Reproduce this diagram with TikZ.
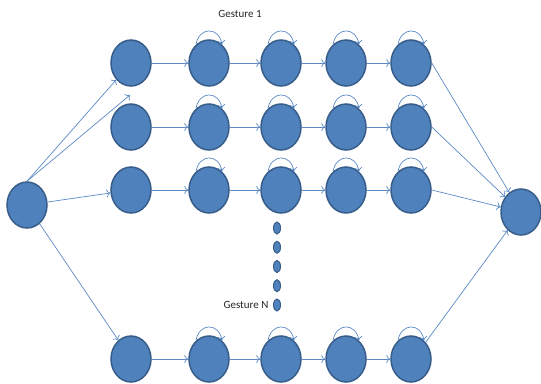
\documentclass[tikz,border=0pt]{standalone}
\usepackage{fontspec}
\setmainfont{Carlito}
\usepackage{tikz}
\usetikzlibrary{shapes,arrows,arrows.meta}
\usepackage{xcolor}
\definecolor{statefill}{HTML}{4F81BD}
\definecolor{stateline}{HTML}{385D8A}
\definecolor{edgeblue}{HTML}{5B8AC6}
\tikzstyle{state} = [ellipse, draw=stateline, fill=statefill, line width=1.5pt,
    minimum width=40pt, minimum height=46pt, inner sep=0pt]
\tikzstyle{dot} = [ellipse, draw=stateline, fill=statefill, line width=1pt,
    minimum width=7pt, minimum height=12pt, inner sep=0pt]
\tikzstyle{label} = [font=\fontsize{11}{13}\selectfont, text=black!85]
\tikzstyle{arrow} = [draw=edgeblue, line width=0.7pt, ->,
    >={To[length=4pt,width=8pt]}]
\tikzstyle{selfloop} = [arrow, out=80, in=100, looseness=1.8]

\begin{document}
\begin{tikzpicture}[x=1pt, y=1pt, node distance=65pt]
    \useasboundingbox (0,0) rectangle (541,-383);
    % Place nodes
    \node [state] (start) at (27,-205) {};
    \node [state] (end) at (521,-212) {};
    \node [state] (r1c1) at (131,-63) {};
    \node [state, right of=r1c1, node distance=78pt] (r1c2) {};
    \node [state, right of=r1c2, node distance=72pt] (r1c3) {};
    \node [state, right of=r1c3] (r1c4) {};
    \node [state, right of=r1c4] (r1c5) {};
    \node [state] (r2c1) at (131,-127) {};
    \node [state, right of=r2c1, node distance=78pt] (r2c2) {};
    \node [state, right of=r2c2, node distance=72pt] (r2c3) {};
    \node [state, right of=r2c3] (r2c4) {};
    \node [state, right of=r2c4] (r2c5) {};
    \node [state] (r3c1) at (131,-190) {};
    \node [state, right of=r3c1, node distance=78pt] (r3c2) {};
    \node [state, right of=r3c2, node distance=72pt] (r3c3) {};
    \node [state, right of=r3c3] (r3c4) {};
    \node [state, right of=r3c4] (r3c5) {};
    \node [state] (rNc1) at (131,-359) {};
    \node [state, right of=rNc1, node distance=78pt] (rNc2) {};
    \node [state, right of=rNc2, node distance=72pt] (rNc3) {};
    \node [state, right of=rNc3] (rNc4) {};
    \node [state, right of=rNc4] (rNc5) {};
    \node [dot] (dot1) at (277,-228) {};
    \node [dot, below of=dot1, node distance=19.25pt] (dot2) {};
    \node [dot, below of=dot2, node distance=19.25pt] (dot3) {};
    \node [dot, below of=dot3, node distance=19.25pt] (dot4) {};
    \node [dot, below of=dot4, node distance=19.25pt] (dot5) {};
    \node [label] (gest1) at (240,-14) {Gesture 1};
    \node [label, left of=dot5, node distance=31pt] (gestN) {Gesture N};
    \coordinate (gap) at (130,-95);
    % Draw edges
    \draw [arrow] (start.north) -- (r1c1);
    \draw [arrow] (start.north) -- (gap);
    \draw [arrow] (start) -- (r3c1);
    \draw [arrow] (start) -- (rNc1);
    \path (r1c1) edge [arrow] (r1c2) (r1c2) edge [arrow] (r1c3)
          (r1c3) edge [arrow] (r1c4) (r1c4) edge [arrow] (r1c5);
    \path (r2c1) edge [arrow] (r2c2) (r2c2) edge [arrow] (r2c3)
          (r2c3) edge [arrow] (r2c4) (r2c4) edge [arrow] (r2c5);
    \path (r3c1) edge [arrow] (r3c2) (r3c2) edge [arrow] (r3c3)
          (r3c3) edge [arrow] (r3c4) (r3c4) edge [arrow] (r3c5);
    \path (rNc1) edge [arrow] (rNc2) (rNc2) edge [arrow] (rNc3)
          (rNc3) edge [arrow] (rNc4) (rNc4) edge [arrow] (rNc5);
    % Self loops
    \path (r1c2.125) edge [selfloop] (r1c2.55) (r1c3.125) edge [selfloop] (r1c3.55)
          (r1c4.125) edge [selfloop] (r1c4.55) (r1c5.125) edge [selfloop] (r1c5.55);
    \path (r2c2.125) edge [selfloop] (r2c2.55) (r2c3.125) edge [selfloop] (r2c3.55)
          (r2c4.125) edge [selfloop] (r2c4.55) (r2c5.125) edge [selfloop] (r2c5.55);
    \path (r3c2.125) edge [selfloop] (r3c2.55) (r3c3.125) edge [selfloop] (r3c3.55)
          (r3c4.125) edge [selfloop] (r3c4.55) (r3c5.125) edge [selfloop] (r3c5.55);
    \path (rNc2.125) edge [selfloop] (rNc2.55) (rNc3.125) edge [selfloop] (rNc3.55)
          (rNc4.125) edge [selfloop] (rNc4.55) (rNc5.125) edge [selfloop] (rNc5.55);
    \draw [arrow] (r1c5.east) -- (end);
    \draw [arrow] (r2c5.east) -- (end);
    \draw [arrow] (r3c5.east) -- (end);
    \draw [arrow] (rNc5.north east) -- (end);
\end{tikzpicture}
\end{document}
